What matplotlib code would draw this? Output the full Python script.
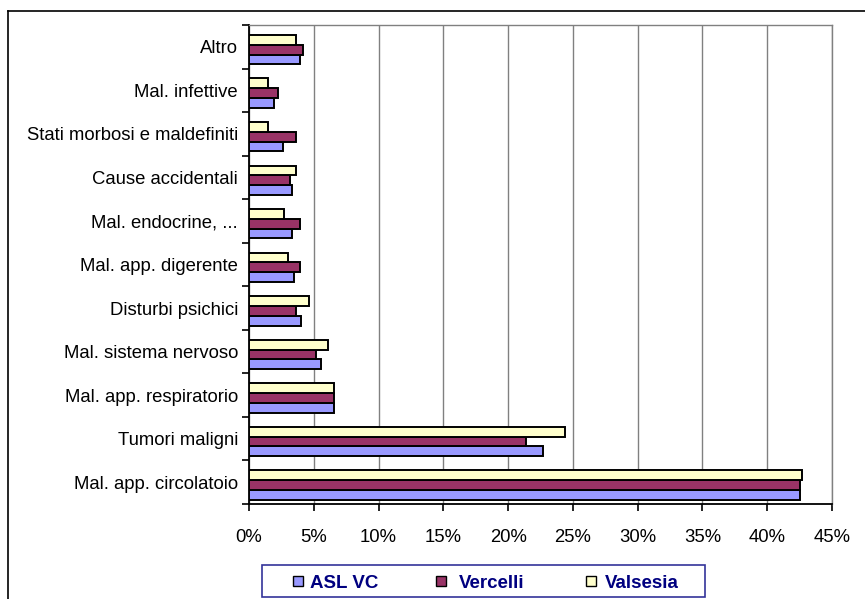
import matplotlib.pyplot as plt
import numpy as np
from matplotlib.lines import Line2D
from matplotlib.patches import Rectangle
from matplotlib.ticker import FixedLocator, NullFormatter, FuncFormatter

plt.rcParams['font.family'] = ['Liberation Sans', 'DejaVu Sans']

# Cause di morte (dal basso verso l'alto) - quota percentuale sul totale
categories = [
    'Mal. app. circolatoio',
    'Tumori maligni',
    'Mal. app. respiratorio',
    'Mal. sistema nervoso',
    'Disturbi psichici',
    'Mal. app. digerente',
    'Mal. endocrine, ...',
    'Cause accidentali',
    'Stati morbosi e maldefiniti',
    'Mal. infettive',
    'Altro',
]
asl_vc = [42.55, 22.7, 6.55, 5.55, 4.05, 3.5, 3.35, 3.3, 2.65, 1.9, 3.9]
vercelli = [42.55, 21.4, 6.55, 5.15, 3.6, 3.9, 3.9, 3.15, 3.6, 2.2, 4.2]
valsesia = [42.65, 24.4, 6.55, 6.1, 4.6, 3.0, 2.7, 3.6, 1.45, 1.45, 3.6]

series = [
    ('ASL VC', asl_vc, '#9999FF'),
    ('Vercelli', vercelli, '#993366'),
    ('Valsesia', valsesia, '#FFFFCC'),
]

W, H = 865, 599
fig = plt.figure(figsize=(W / 100, H / 100), dpi=100)
ax = fig.add_axes([249 / W, 1 - 504 / H, (832 - 249) / W, (504 - 25) / H])

y = np.arange(len(categories))
h = 0.225
shift = -0.065
for k, (name, vals, col) in enumerate(series):
    ax.barh(y + shift + (k - 1) * h, vals, height=h, color=col,
            edgecolor='black', linewidth=1.4, label=name, zorder=3)

ax.set_xlim(0, 45)
ax.set_ylim(-0.5, len(categories) - 0.5)
ax.set_xticks(np.arange(0, 46, 5))
ax.xaxis.set_major_formatter(FuncFormatter(lambda v, p: f'{v:.0f}%'))
ax.grid(axis='x', color='#808080', linewidth=1, zorder=0)

# tacche dell'asse y ai confini tra categorie, etichette al centro
ax.yaxis.set_major_locator(FixedLocator(np.arange(-0.5, len(categories), 1)))
ax.yaxis.set_major_formatter(NullFormatter())
ax.yaxis.set_minor_locator(FixedLocator(y))
ax.set_yticklabels(categories, minor=True)
ax.tick_params(axis='y', which='major', length=5, width=1.2, direction='out')
ax.tick_params(axis='y', which='minor', length=0, pad=8, labelsize=13.3)
ax.tick_params(axis='x', length=5, width=1.2, direction='out', pad=13, labelsize=13.3)

for side in ('top', 'right'):
    ax.spines[side].set_color('#808080')
    ax.spines[side].set_linewidth(1)
for side in ('left', 'bottom'):
    ax.spines[side].set_color('black')
    ax.spines[side].set_linewidth(1.3)

# legenda in basso, disegnata a mano
def fx(px):
    return px / W


def fy(py):
    return 1 - py / H


fig.add_artist(Rectangle((fx(262), fy(597)), fx(705) - fx(262), fy(565) - fy(597),
                         facecolor='white', edgecolor='#333399', linewidth=1.2,
                         transform=fig.transFigure))
leg_marker_x = [298, 441, 591]
leg_text_x = [310, 459, 605]
for (name, _, col), mx, tx in zip(series, leg_marker_x, leg_text_x):
    fig.add_artist(Line2D([fx(mx)], [fy(581)], marker='s', linestyle='none',
                          markersize=7, markerfacecolor=col,
                          markeredgecolor='black', markeredgewidth=1))
    fig.text(fx(tx), fy(581), name, ha='left', va='center_baseline',
             fontsize=13.5, fontweight='bold', color='#000080')

# cornice esterna del grafico
fig.add_artist(Line2D([fx(8), 1], [fy(11)] * 2, color='black', linewidth=1.2))
fig.add_artist(Line2D([fx(8)] * 2, [0, fy(11)], color='black', linewidth=1.2))

fig.savefig('out.png', dpi=100)
